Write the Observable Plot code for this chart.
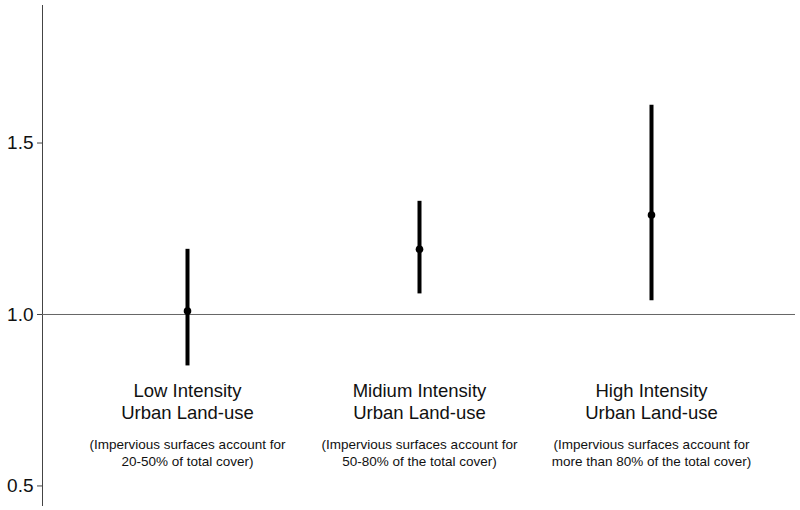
<!DOCTYPE html>
<html>
<head>
<meta charset="utf-8">
<script src="https://cdn.jsdelivr.net/npm/d3@7"></script>
<script src="https://cdn.jsdelivr.net/npm/@observablehq/plot@0.6"></script>
<style>
  html, body { margin: 0; padding: 0; background: #fff; }
  #chart svg { display: block; }
</style>
</head>
<body>
<div id="chart"></div>
<script>
const categories = ["Low Intensity", "Midium Intensity", "High Intensity"];
const subLabels = ["Urban Land-use", "Urban Land-use", "Urban Land-use"];
const notes = [
  "(Impervious surfaces account for\n20-50% of total cover)",
  "(Impervious surfaces account for\n50-80% of the total cover)",
  "(Impervious surfaces account for\nmore than 80% of the total cover)"
];
const estimates = [1.01, 1.19, 1.29];
const lower = [0.85, 1.06, 1.04];
const upper = [1.19, 1.33, 1.61];
const yTicks = [0.5, 1.0, 1.5];
const reference = [1];

const data = categories.map((c, i) => ({
  cat: c, title: c + "\n" + subLabels[i], note: notes[i],
  est: estimates[i], lo: lower[i], hi: upper[i]
}));

const chart = Plot.plot({
  width: 800,
  height: 510,
  marginLeft: 42,
  marginRight: 5,
  marginTop: 5,
  marginBottom: 5,
  style: { fontFamily: "'Liberation Sans', Arial, sans-serif", background: "#fff" },
  x: { type: "point", domain: categories, padding: 0.62, axis: null },
  y: { domain: [0.443, 1.901], ticks: yTicks, tickFormat: ".1f" },
  marks: [
    Plot.frame({ anchor: "left", stroke: "#444", strokeWidth: 1 }),
    Plot.axisY({ ticks: yTicks, tickFormat: ".1f", tickSize: 5, tickPadding: 4, fontSize: 19, label: null, stroke: "#444", color: "#111" }),
    Plot.ruleY(reference, { stroke: "#666", strokeWidth: 1 }),
    Plot.ruleX(data, { x: "cat", y1: "lo", y2: "hi", stroke: "#000", strokeWidth: 4 }),
    Plot.dot(data, { x: "cat", y: "est", r: 3.8, fill: "#000", stroke: "none" }),
    Plot.text(data, { x: "cat", text: "title", frameAnchor: "bottom", dy: -105, lineAnchor: "middle", lineHeight: 1.2, fontSize: 18.5, fill: "#111" }),
    Plot.text(data, { x: "cat", text: "note", frameAnchor: "bottom", dy: -53.5, lineAnchor: "middle", lineHeight: 1.22, fontSize: 13.5, fill: "#111" })
  ]
});
document.getElementById("chart").appendChild(chart);
</script>
</body>
</html>
